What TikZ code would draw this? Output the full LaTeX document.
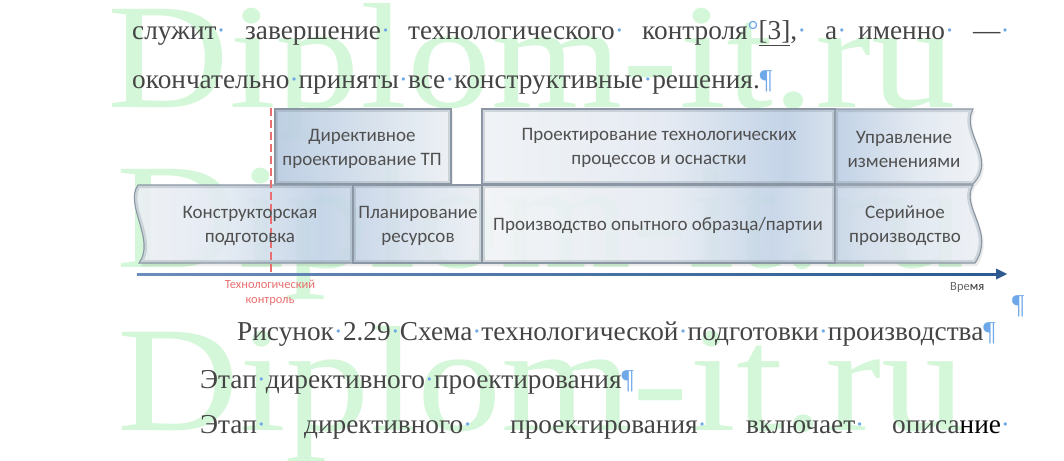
\documentclass[tikz,border=0pt]{standalone}
\usepackage{fontspec}
\setmainfont{Liberation Serif}
\newfontfamily\boxfont{Carlito}
\newfontfamily\wmfont{Liberation Serif}
\usetikzlibrary{arrows.meta}
\definecolor{bodytxt}{HTML}{454545}
\definecolor{markblue}{HTML}{6FA8E8}
\definecolor{wmgreen}{HTML}{00D21E}
\definecolor{boxtxt}{HTML}{505050}
\definecolor{cellborder}{HTML}{8A96A3}
\definecolor{cellshadow}{HTML}{7C8895}
\definecolor{ctrlred}{HTML}{E87070}
\definecolor{axislight}{HTML}{6A8DBB}
\definecolor{axisdark}{HTML}{2D5A90}
% cell colours
\definecolor{cA1}{HTML}{F0F3F7}\definecolor{cA2}{HTML}{E4EBF4}\definecolor{cA3}{HTML}{C3D4E8}\definecolor{cA4}{HTML}{CCDAEA}
\definecolor{cB1}{HTML}{C8D7E9}\definecolor{cB2}{HTML}{DCE5F0}\definecolor{cB3}{HTML}{EDF1F6}
\definecolor{cC1}{HTML}{F3F5F8}\definecolor{cC2}{HTML}{E7EDF4}\definecolor{cC3}{HTML}{C6D6E9}\definecolor{cC4}{HTML}{DCE5EF}
\definecolor{cD1}{HTML}{CBD9EA}\definecolor{cD2}{HTML}{E2E9F2}\definecolor{cD3}{HTML}{F1F4F8}
\definecolor{cE1}{HTML}{BACDE3}\definecolor{cE2}{HTML}{D3DFEC}\definecolor{cE3}{HTML}{EEF2F6}
\definecolor{cF1}{HTML}{F1F4F8}\definecolor{cF2}{HTML}{E6ECF4}\definecolor{cF3}{HTML}{C0D2E7}\definecolor{cF4}{HTML}{D6E1EE}
\definecolor{cG1}{HTML}{BDD0E6}\definecolor{cG2}{HTML}{E2E9F2}\definecolor{cG3}{HTML}{F5F7FA}
\pgfdeclarehorizontalshading{shA}{100bp}{color(0bp)=(cA1); color(25bp)=(cA1); color(47bp)=(cA2); color(68bp)=(cA3); color(75bp)=(cA4); color(100bp)=(cA4)}
\pgfdeclarehorizontalshading{shB}{100bp}{color(0bp)=(cB1); color(25bp)=(cB1); color(50bp)=(cB2); color(75bp)=(cB3); color(100bp)=(cB3)}
\pgfdeclarehorizontalshading{shC}{100bp}{color(0bp)=(cC1); color(25bp)=(cC1); color(52bp)=(cC2); color(66bp)=(cC3); color(75bp)=(cC4); color(100bp)=(cC4)}
\pgfdeclarehorizontalshading{shD}{100bp}{color(0bp)=(cD1); color(25bp)=(cD1); color(50bp)=(cD2); color(75bp)=(cD3); color(100bp)=(cD3)}
\pgfdeclarehorizontalshading{shE}{100bp}{color(0bp)=(cE1); color(25bp)=(cE1); color(50bp)=(cE2); color(75bp)=(cE3); color(100bp)=(cE3)}
\pgfdeclarehorizontalshading{shF}{100bp}{color(0bp)=(cF1); color(25bp)=(cF1); color(50bp)=(cF2); color(68bp)=(cF3); color(75bp)=(cF4); color(100bp)=(cF4)}
\pgfdeclarehorizontalshading{shG}{100bp}{color(0bp)=(cG1); color(25bp)=(cG1); color(50bp)=(cG2); color(75bp)=(cG3); color(100bp)=(cG3)}
\newcommand\spc{{\color{markblue}·}}
\newcommand\drawcell[2]{%
  \shade[shading=#2, opacity=0.9] #1;
  \begin{scope}\clip #1; \draw[line width=6pt, draw=cellshadow, opacity=0.28] #1; \end{scope}
  \draw[cellborder, line width=1.1pt] #1;
}
\tikzset{
  body/.style={anchor=base west, inner sep=0, font=\fontsize{27.3}{27.3}\selectfont, text=bodytxt},
  boxtext/.style={inner sep=0, align=center, font=\boxfont\fontsize{19}{24}\selectfont, text=boxtxt},
  wm/.style={anchor=base west, inner sep=0, font=\wmfont\fontsize{150}{150}\selectfont, text=wmgreen, text opacity=0.17, xscale=1.125},
  smalllabel/.style={inner sep=0, align=center, font=\boxfont\fontsize{12.5}{15}\selectfont},
}
\begin{document}
\begin{tikzpicture}[x=1pt,y=-1pt]
\useasboundingbox (0,0) rectangle (1064,460);
\fill[white] (0,0) rectangle (1064,460);
% watermark (behind everything)
\node[wm] (wm1) at (107,107) {Diplom-it.ru};
\node[wm] (wm2) at (116,267) {Diplom-it.ru};
\node[wm] (wm3) at (117,430) {Diplom-it.ru};
% drop shadows
\fill[black, opacity=0.08] (277,111) rectangle (453,187);
\fill[black, opacity=0.08] (484,111) -- (975,111) .. controls (962,137) and (1000,162) .. (975,187) -- (484,187) -- cycle;
\fill[black, opacity=0.08] (140,187) -- (975,187) .. controls (962,209) and (998,235) .. (977,266) -- (141,266) .. controls (158,242) and (126,207) .. (140,187) -- cycle;
% cells
\drawcell{(138,185) -- (353,185) -- (353,263) -- (139,263) .. controls (156,240) and (124,205) .. (138,185) -- cycle}{shA}
\drawcell{(353,185) rectangle (482,263)}{shB}
\drawcell{(482,185) rectangle (835,263)}{shC}
\drawcell{(835,185) -- (973,185) .. controls (960,207) and (996,232) .. (975,263) -- (835,263) -- cycle}{shD}
\drawcell{(275,109) rectangle (451,184)}{shE}
\drawcell{(482,109) rectangle (835,184)}{shF}
\drawcell{(835,109) -- (973,109) .. controls (960,133) and (998,158) .. (973,184) -- (835,184) -- cycle}{shG}
% time axis
\coordinate (t0) at (137,274);
\coordinate (t1) at (1007,274);
\shade[left color=axislight, right color=axisdark] (137,273.2) rectangle (998,275);
\fill[axisdark] (996,268.5) -- (t1) -- (996,279.5) -- cycle;
% technological control line
\coordinate (c0) at (271,108);
\coordinate (c1) at (271,273);
\draw[ctrlred, line width=1.2pt, dash pattern=on 8pt off 4pt] (c0) -- (c1);
% cell texts
\node[boxtext] (tE) at (362,149) {Директивное\\проектирование ТП};
\node[boxtext] (tF) at (659,148) {Проектирование технологических\\процессов и оснастки};
\node[boxtext] (tG) at (904,149) {Управление\\изменениями};
\node[boxtext] (tA) at (250,226) {Конструкторская\\подготовка};
\node[boxtext] (tB) at (418,226) {Планирование\\ресурсов};
\node[boxtext] (tC) at (658,225) {Производство опытного образца/партии};
\node[boxtext] (tD) at (905,226) {Серийное\\производство};
\node[smalllabel, text=ctrlred] (ctrl) at (270,293) {Технологический\\контроль};
\node[smalllabel, anchor=base west, text=black!60] (time) at (950,290) {Вре{\color{black!80}мя}};
% body text
\node[body] (w1) at (132,40) {служит\spc};
\node[body] (w2) at (245,40) {завершение\spc};
\node[body] (w3) at (408,40) {технологического\spc};
\node[body] (w4) at (642,40) {контроля{\color{markblue}°}\underline{[3]},\spc};
\node[body] (w5) at (825,40) {а\spc};
\node[body] (w6) at (858,40) {именно\spc};
\node[body] (w7) at (973,40) {—\spc};
\node[body] (l2) at (132,88) {окончательно\spc приняты\spc все\spc конструктивные\spc решения.{\color{markblue}¶}};
\node[body, text=markblue] (pil) at (1012,313) {¶};
\node[body] (cap) at (237,340) {Рисунок\spc 2.29\spc Схема\spc технологической\spc подготовки\spc производства{\color{markblue}¶}};
\node[body] (h1) at (200,388) {Этап\spc директивного\spc проектирования{\color{markblue}¶}};
\node[body] (v1) at (200,433) {Этап\spc};
\node[body] (v2) at (304,433) {директивного\spc};
\node[body] (v3) at (510,433) {проектирования\spc};
\node[body] (v4) at (746,433) {включает\spc};
\node[body] (v5) at (892,433) {описа{\color{black}ние}\spc};
\end{tikzpicture}
\end{document}
